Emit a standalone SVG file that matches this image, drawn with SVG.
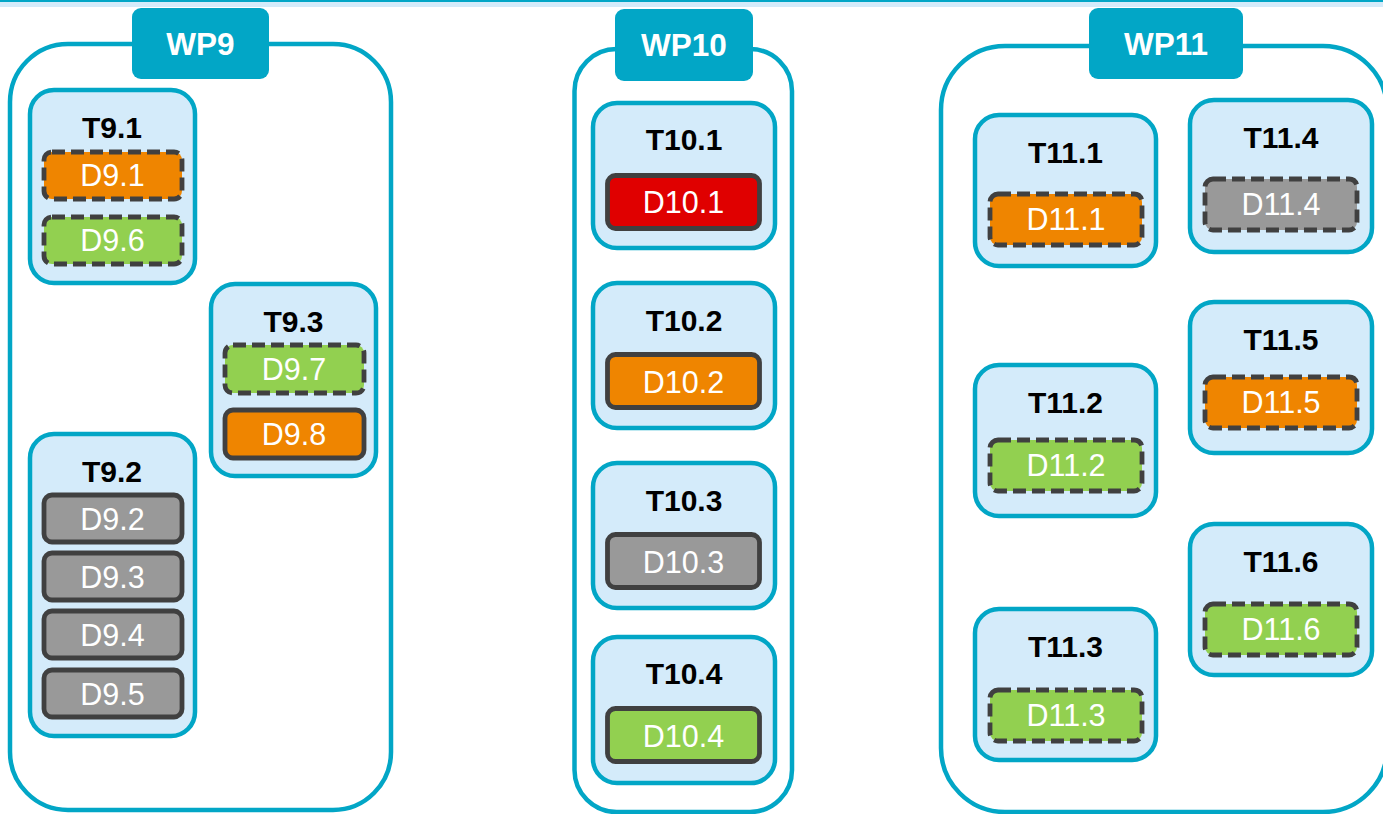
<svg xmlns="http://www.w3.org/2000/svg" width="1383" height="814" viewBox="0 0 1383 814">
<style>
.wp{fill:#fff;stroke:#02a6c6;stroke-width:4.5}
.tab{fill:#02a6c6}
.tabt{font-family:"Liberation Sans",Arial,sans-serif;font-weight:bold;font-size:31.5px;fill:#fff;text-anchor:middle}
.task{fill:#d4ebfa;stroke:#02a6c6;stroke-width:4.5}
.tt{font-family:"Liberation Sans",Arial,sans-serif;font-weight:bold;font-size:30px;fill:#000;text-anchor:middle}
.d{stroke:#404040;stroke-width:4.8}
.dash{stroke-dasharray:13 6}
.dt{font-family:"Liberation Sans",Arial,sans-serif;font-size:30.5px;fill:#fff;text-anchor:middle}
.or{fill:#ef8500}.gr{fill:#92d050}.gy{fill:#999999}.rd{fill:#e00000}
</style>
<rect x="0" y="0" width="1383" height="7" fill="#d4ebfa"/>
<rect x="0" y="0" width="1383" height="2" fill="#02a6c6"/>

<g id="WP9">
<rect class="wp" x="10" y="44" width="381" height="766" rx="58"/>
<rect class="tab" x="132" y="8" width="137" height="71" rx="9"/>
<text class="tabt" x="200.5" y="55">WP9</text>
</g>
<g id="T9.1">
<rect class="task" x="30" y="90" width="165" height="193" rx="24"/>
<text class="tt" x="112" y="138">T9.1</text>
<rect class="d dash or" x="44" y="152" width="138" height="47" rx="8"/><text class="dt" x="112.5" y="186">D9.1</text>
<rect class="d dash gr" x="44" y="217" width="138" height="47" rx="8"/><text class="dt" x="112.5" y="251">D9.6</text>
</g>
<g id="T9.3">
<rect class="task" x="211" y="284" width="165" height="192" rx="24"/>
<text class="tt" x="293.5" y="332">T9.3</text>
<rect class="d dash gr" x="225" y="345" width="139" height="48" rx="8"/><text class="dt" x="294" y="380">D9.7</text>
<rect class="d or" x="225" y="410" width="139" height="48" rx="8"/><text class="dt" x="294" y="445">D9.8</text>
</g>
<g id="T9.2">
<rect class="task" x="30" y="434" width="165" height="302" rx="24"/>
<text class="tt" x="112" y="482">T9.2</text>
<rect class="d gy" x="44" y="495" width="138" height="47" rx="8"/><text class="dt" x="112.5" y="530">D9.2</text>
<rect class="d gy" x="44" y="553" width="138" height="47" rx="8"/><text class="dt" x="112.5" y="588">D9.3</text>
<rect class="d gy" x="44" y="611" width="138" height="47" rx="8"/><text class="dt" x="112.5" y="646">D9.4</text>
<rect class="d gy" x="44" y="670" width="138" height="47" rx="8"/><text class="dt" x="112.5" y="705">D9.5</text>
</g>

<g id="WP10">
<rect class="wp" x="574.5" y="49" width="217.5" height="763" rx="42"/>
<rect class="tab" x="615" y="9" width="138" height="72" rx="9"/>
<text class="tabt" x="684" y="56">WP10</text>
</g>
<g id="T10.1">
<rect class="task" x="593" y="103" width="182" height="145" rx="24"/>
<text class="tt" x="684" y="150">T10.1</text>
<rect class="d rd" x="607.5" y="175.5" width="152" height="53" rx="8"/><text class="dt" x="683.5" y="213">D10.1</text>
</g>
<g id="T10.2">
<rect class="task" x="593" y="283" width="182" height="145" rx="24"/>
<text class="tt" x="684" y="331">T10.2</text>
<rect class="d or" x="607.5" y="354.5" width="152" height="53" rx="8"/><text class="dt" x="683.5" y="393">D10.2</text>
</g>
<g id="T10.3">
<rect class="task" x="593" y="463" width="182" height="145" rx="24"/>
<text class="tt" x="684" y="511">T10.3</text>
<rect class="d gy" x="607.5" y="534.5" width="152" height="53" rx="8"/><text class="dt" x="683.5" y="573">D10.3</text>
</g>
<g id="T10.4">
<rect class="task" x="593" y="637" width="182" height="146" rx="24"/>
<text class="tt" x="684" y="684">T10.4</text>
<rect class="d gr" x="607.5" y="708.5" width="152" height="53" rx="8"/><text class="dt" x="683.5" y="747">D10.4</text>
</g>

<g id="WP11">
<rect class="wp" x="941" y="46" width="446" height="766" rx="64"/>
<rect class="tab" x="1089" y="8" width="154" height="71" rx="9"/>
<text class="tabt" x="1166" y="55">WP11</text>
</g>
<g id="T11.1">
<rect class="task" x="975" y="115" width="181" height="151" rx="24"/>
<text class="tt" x="1065.5" y="163">T11.1</text>
<rect class="d dash or" x="990" y="194" width="152" height="51" rx="8"/><text class="dt" x="1066" y="230">D11.1</text>
</g>
<g id="T11.2">
<rect class="task" x="975" y="365" width="181" height="151" rx="24"/>
<text class="tt" x="1065.5" y="413">T11.2</text>
<rect class="d dash gr" x="990" y="440" width="152" height="51" rx="8"/><text class="dt" x="1066" y="476">D11.2</text>
</g>
<g id="T11.3">
<rect class="task" x="975" y="609" width="181" height="151" rx="24"/>
<text class="tt" x="1065.5" y="657">T11.3</text>
<rect class="d dash gr" x="990" y="690" width="152" height="51" rx="8"/><text class="dt" x="1066" y="726">D11.3</text>
</g>
<g id="T11.4">
<rect class="task" x="1190" y="100" width="182" height="152" rx="24"/>
<text class="tt" x="1281" y="148">T11.4</text>
<rect class="d dash gy" x="1205" y="179" width="152" height="51" rx="8"/><text class="dt" x="1281" y="215">D11.4</text>
</g>
<g id="T11.5">
<rect class="task" x="1190" y="302" width="182" height="151" rx="24"/>
<text class="tt" x="1281" y="350">T11.5</text>
<rect class="d dash or" x="1205" y="377" width="152" height="51" rx="8"/><text class="dt" x="1281" y="413">D11.5</text>
</g>
<g id="T11.6">
<rect class="task" x="1190" y="524" width="182" height="151" rx="24"/>
<text class="tt" x="1281" y="572">T11.6</text>
<rect class="d dash gr" x="1205" y="604" width="152" height="51" rx="8"/><text class="dt" x="1281" y="640">D11.6</text>
</g>
<g id="connectors"/>
</svg>
